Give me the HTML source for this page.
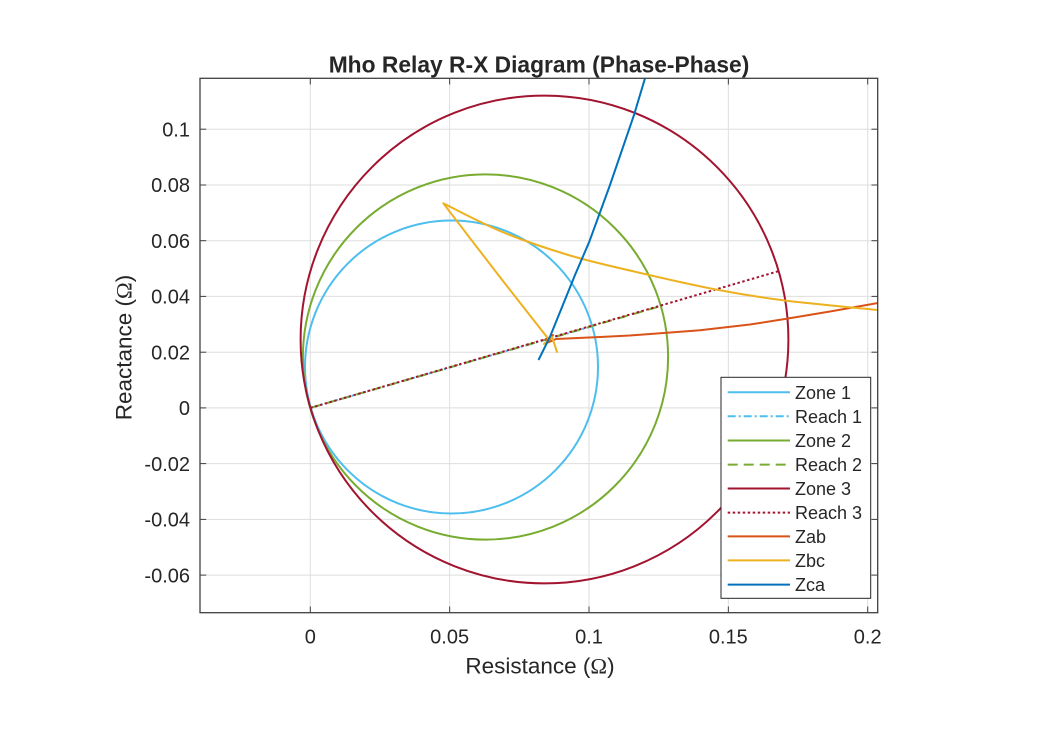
<!DOCTYPE html>
<html>
<head>
<meta charset="utf-8">
<style>
  html, body { margin:0; padding:0; background:#ffffff; }
  svg { display:block; }
  text { font-family: "Liberation Sans", Arial, sans-serif; fill:#262626; }
</style>
</head>
<body>
<svg width="1049" height="750" viewBox="0 0 1049 750" xmlns="http://www.w3.org/2000/svg">
  <rect x="0" y="0" width="1049" height="750" fill="#ffffff"/>
  <defs>
    <clipPath id="ax">
      <rect x="200" y="78.3" width="677.7" height="534.4"/>
    </clipPath>
  </defs>

  <rect x="200" y="78.3" width="677.7" height="534.4" fill="#ffffff"/>

  <!-- grid -->
  <g stroke="#dedede" stroke-width="1">
    <line x1="310.3" y1="78.3" x2="310.3" y2="612.7"/>
    <line x1="449.65" y1="78.3" x2="449.65" y2="612.7"/>
    <line x1="589" y1="78.3" x2="589" y2="612.7"/>
    <line x1="728.35" y1="78.3" x2="728.35" y2="612.7"/>
    <line x1="867.7" y1="78.3" x2="867.7" y2="612.7"/>
    <line x1="200" y1="129.2" x2="877.7" y2="129.2"/>
    <line x1="200" y1="185" x2="877.7" y2="185"/>
    <line x1="200" y1="240.7" x2="877.7" y2="240.7"/>
    <line x1="200" y1="296.4" x2="877.7" y2="296.4"/>
    <line x1="200" y1="352.2" x2="877.7" y2="352.2"/>
    <line x1="200" y1="407.9" x2="877.7" y2="407.9"/>
    <line x1="200" y1="463.6" x2="877.7" y2="463.6"/>
    <line x1="200" y1="519.4" x2="877.7" y2="519.4"/>
    <line x1="200" y1="575.1" x2="877.7" y2="575.1"/>
  </g>

  <g clip-path="url(#ax)" fill="none" stroke-width="2">
    <!-- Zone 1 -->
    <circle cx="451.5" cy="367" r="146.5" stroke="#4DBEEE"/>
    <!-- Reach 1 -->
    <line x1="310.3" y1="407.9" x2="592.7" y2="326.1" stroke="#4DBEEE" stroke-dasharray="8,3,2,3"/>
    <!-- Zone 2 -->
    <circle cx="485.5" cy="357" r="182.6" stroke="#77AC30"/>
    <!-- Reach 2 -->
    <line x1="310.3" y1="407.9" x2="660.7" y2="306.1" stroke="#77AC30" stroke-dasharray="10,6"/>
    <!-- Zone 3 -->
    <circle cx="544.5" cy="339.5" r="243.9" stroke="#A2142F"/>
    <!-- Reach 3 -->
    <line x1="310.3" y1="407.9" x2="778.7" y2="271.1" stroke="#A2142F" stroke-dasharray="2.5,2.5"/>

    <!-- Zab -->
    <polyline stroke="#D95319" stroke-linejoin="round" points="545,340.5 553,335 548,342.5 556,339 600,337 630,335.5 667,332.7 700,330.2 750,324.5 785,319 830,311.5 878,303 900,299"/>
    <!-- Zbc -->
    <path stroke="#EDB120" stroke-linejoin="round" d="M900,312 L878,310 C858.8,308.1 812,303.9 785,300.5 C758,297.1 741,294.3 716,289.5 C691,284.7 659.6,277.45 635,271.7 C610.4,265.95 590.5,261.67 568.3,255 C546.1,248.3 522.5,240.3 501.7,231.7 C480.9,223.1 453,208 443.3,203.3 L470,238.2 L503,281 L530,315.5 L546.7,336.7 L549,340 L544,344 L552,337 L557.3,352.7"/>
    <!-- Zca -->
    <polyline stroke="#0072BD" stroke-linejoin="round" points="538.5,360 550,336.7 575,275 589.3,241.7 610,185 634,115 645,78.3 651,60"/>
  </g>

  <!-- axes box -->
  <rect x="200" y="78.3" width="677.7" height="534.4" fill="none" stroke="#404040" stroke-width="1.3"/>

  <!-- ticks -->
  <g stroke="#404040" stroke-width="1">
    <line x1="310.3" y1="612.7" x2="310.3" y2="606.5"/>
    <line x1="449.65" y1="612.7" x2="449.65" y2="606.5"/>
    <line x1="589" y1="612.7" x2="589" y2="606.5"/>
    <line x1="728.35" y1="612.7" x2="728.35" y2="606.5"/>
    <line x1="867.7" y1="612.7" x2="867.7" y2="606.5"/>
    <line x1="310.3" y1="78.3" x2="310.3" y2="84.5"/>
    <line x1="449.65" y1="78.3" x2="449.65" y2="84.5"/>
    <line x1="589" y1="78.3" x2="589" y2="84.5"/>
    <line x1="728.35" y1="78.3" x2="728.35" y2="84.5"/>
    <line x1="867.7" y1="78.3" x2="867.7" y2="84.5"/>
    <line x1="200" y1="129.2" x2="206.2" y2="129.2"/>
    <line x1="200" y1="185" x2="206.2" y2="185"/>
    <line x1="200" y1="240.7" x2="206.2" y2="240.7"/>
    <line x1="200" y1="296.4" x2="206.2" y2="296.4"/>
    <line x1="200" y1="352.2" x2="206.2" y2="352.2"/>
    <line x1="200" y1="407.9" x2="206.2" y2="407.9"/>
    <line x1="200" y1="463.6" x2="206.2" y2="463.6"/>
    <line x1="200" y1="519.4" x2="206.2" y2="519.4"/>
    <line x1="200" y1="575.1" x2="206.2" y2="575.1"/>
    <line x1="877.7" y1="129.2" x2="871.5" y2="129.2"/>
    <line x1="877.7" y1="185" x2="871.5" y2="185"/>
    <line x1="877.7" y1="240.7" x2="871.5" y2="240.7"/>
    <line x1="877.7" y1="296.4" x2="871.5" y2="296.4"/>
    <line x1="877.7" y1="352.2" x2="871.5" y2="352.2"/>
    <line x1="877.7" y1="407.9" x2="871.5" y2="407.9"/>
    <line x1="877.7" y1="463.6" x2="871.5" y2="463.6"/>
    <line x1="877.7" y1="519.4" x2="871.5" y2="519.4"/>
    <line x1="877.7" y1="575.1" x2="871.5" y2="575.1"/>
  </g>

  <!-- x tick labels -->
  <g font-size="20" text-anchor="middle">
    <text x="310.3" y="643.5">0</text>
    <text x="449.65" y="643.5">0.05</text>
    <text x="589" y="643.5">0.1</text>
    <text x="728.35" y="643.5">0.15</text>
    <text x="867.7" y="643.5">0.2</text>
  </g>
  <!-- y tick labels -->
  <g font-size="20" text-anchor="end">
    <text x="190" y="136.4">0.1</text>
    <text x="190" y="192.2">0.08</text>
    <text x="190" y="247.9">0.06</text>
    <text x="190" y="303.6">0.04</text>
    <text x="190" y="359.4">0.02</text>
    <text x="190" y="415.1">0</text>
    <text x="190" y="470.8">-0.02</text>
    <text x="190" y="526.6">-0.04</text>
    <text x="190" y="582.3">-0.06</text>
  </g>

  <!-- title -->
  <text x="539" y="72.3" font-size="22.8" font-weight="bold" text-anchor="middle" fill="#000000">Mho Relay R-X Diagram (Phase-Phase)</text>

  <!-- axis labels -->
  <text x="540" y="673.3" font-size="22.5" text-anchor="middle">Resistance (<tspan font-family="Liberation Serif, serif">Ω</tspan>)</text>
  <text x="0" y="0" font-size="22.5" text-anchor="middle" transform="translate(131.7,347.5) rotate(-90)">Reactance (<tspan font-family="Liberation Serif, serif">Ω</tspan>)</text>

  <!-- legend -->
  <rect x="721" y="377.3" width="149.7" height="221" fill="#ffffff" stroke="#262626" stroke-width="1"/>
  <g stroke-width="2" fill="none">
    <line x1="727.7" y1="392.3" x2="790" y2="392.3" stroke="#4DBEEE"/>
    <line x1="727.7" y1="416.3" x2="790" y2="416.3" stroke="#4DBEEE" stroke-dasharray="8,3,2,3"/>
    <line x1="727.7" y1="440.5" x2="790" y2="440.5" stroke="#77AC30"/>
    <line x1="727.7" y1="464.6" x2="790" y2="464.6" stroke="#77AC30" stroke-dasharray="10,6"/>
    <line x1="727.7" y1="488.5" x2="790" y2="488.5" stroke="#A2142F"/>
    <line x1="727.7" y1="512.6" x2="790" y2="512.6" stroke="#A2142F" stroke-dasharray="2.5,2.5"/>
    <line x1="727.7" y1="536.4" x2="790" y2="536.4" stroke="#D95319"/>
    <line x1="727.7" y1="560.4" x2="790" y2="560.4" stroke="#EDB120"/>
    <line x1="727.7" y1="584.6" x2="790" y2="584.6" stroke="#0072BD"/>
  </g>
  <g font-size="18">
    <text x="795" y="398.8" fill="#000">Zone 1</text>
    <text x="795" y="422.8" fill="#000">Reach 1</text>
    <text x="795" y="447" fill="#000">Zone 2</text>
    <text x="795" y="471.1" fill="#000">Reach 2</text>
    <text x="795" y="495" fill="#000">Zone 3</text>
    <text x="795" y="519.1" fill="#000">Reach 3</text>
    <text x="795" y="542.9" fill="#000">Zab</text>
    <text x="795" y="566.9" fill="#000">Zbc</text>
    <text x="795" y="591.1" fill="#000">Zca</text>
  </g>
</svg>
</body>
</html>
